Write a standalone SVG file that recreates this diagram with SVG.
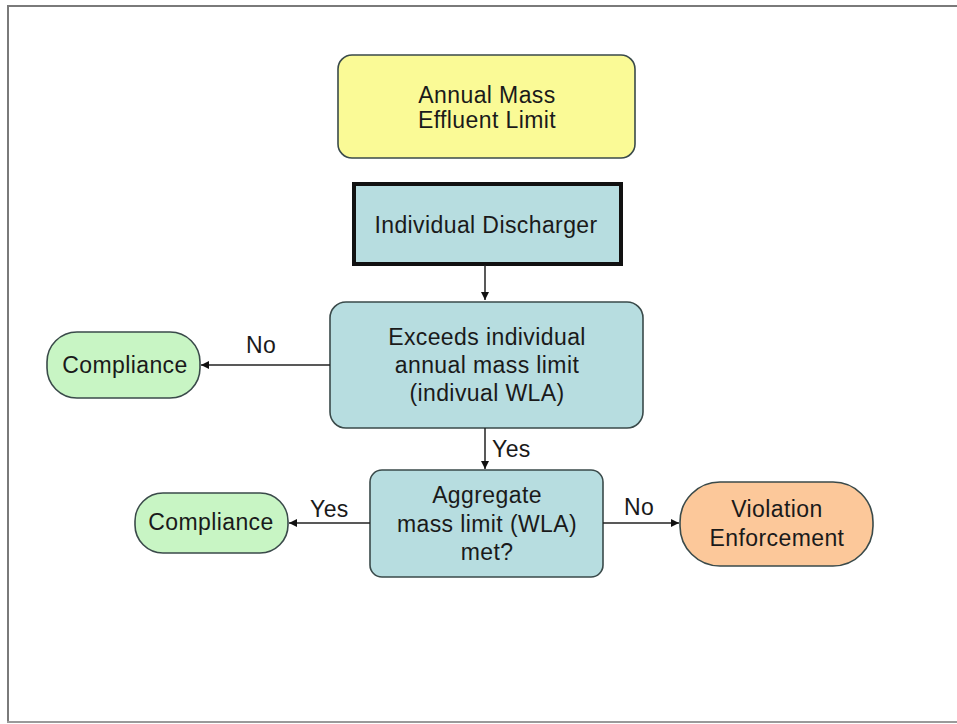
<svg xmlns="http://www.w3.org/2000/svg" width="957" height="724" viewBox="0 0 957 724">
<style>
text{font-family:"Liberation Sans",Arial,sans-serif;font-size:23px;letter-spacing:0.4px;fill:#1a1a1a;text-anchor:middle}
.lbl{text-anchor:start}
.box{stroke:#3a4a4a;stroke-width:1.6}
.blue{fill:#b7dde0}
.green{fill:#c8f5c4}
.conn line{stroke:#222;stroke-width:1.5}
</style>
<defs>
<marker id="arr" viewBox="0 0 10 10" refX="10" refY="5" markerWidth="8" markerHeight="8" markerUnits="userSpaceOnUse" orient="auto">
<path d="M0,0 L10,5 L0,10 z" fill="#111"/>
</marker>
</defs>
<rect x="0" y="0" width="957" height="724" fill="#fff"/>
<g id="frame" fill="none">
<line x1="7" y1="6" x2="957" y2="6" stroke="#7a7a7a" stroke-width="2"/>
<line x1="8" y1="6" x2="8" y2="722" stroke="#7a7a7a" stroke-width="2"/>
<line x1="7" y1="722" x2="957" y2="722" stroke="#9a9a9a" stroke-width="2"/>
</g>
<g id="annual-limit">
<rect class="box" x="338" y="55" width="297" height="103" rx="14" fill="#fafa96"/>
<text x="487" y="103">Annual Mass</text>
<text x="487" y="128">Effluent Limit</text>
</g>
<g id="individual-discharger">
<rect x="354" y="184" width="267" height="80" fill="#b7dde0" stroke="#111" stroke-width="4"/>
<text x="486" y="233">Individual Discharger</text>
</g>
<g id="exceeds">
<rect class="box blue" x="330" y="302" width="313" height="126" rx="16"/>
<text x="487" y="345">Exceeds individual</text>
<text x="487" y="373">annual mass limit</text>
<text x="487" y="401">(indivual WLA)</text>
</g>
<g id="compliance-1">
<rect class="box green" x="47" y="332" width="153" height="66" rx="30"/>
<text x="125" y="373">Compliance</text>
</g>
<g id="aggregate">
<rect class="box blue" x="370" y="470" width="233" height="107" rx="12"/>
<text x="487" y="503">Aggregate</text>
<text x="487" y="532">mass limit (WLA)</text>
<text x="487" y="560">met?</text>
</g>
<g id="compliance-2">
<rect class="box green" x="135" y="493" width="153" height="60" rx="28"/>
<text x="211" y="530">Compliance</text>
</g>
<g id="violation">
<rect class="box" x="680" y="482" width="193" height="84" rx="40" fill="#fcc89a"/>
<text x="777" y="517">Violation</text>
<text x="777" y="546">Enforcement</text>
</g>
<g class="conn" id="connectors">
<line x1="485" y1="265" x2="485" y2="300" marker-end="url(#arr)"/>
<line x1="330" y1="365" x2="201" y2="365" marker-end="url(#arr)"/>
<line x1="485" y1="428" x2="485" y2="469" marker-end="url(#arr)"/>
<line x1="370" y1="523" x2="289" y2="523" marker-end="url(#arr)"/>
<line x1="603" y1="523" x2="679" y2="523" marker-end="url(#arr)"/>
<text class="lbl" x="246" y="353">No</text>
<text class="lbl" x="492" y="457">Yes</text>
<text class="lbl" x="310" y="517">Yes</text>
<text class="lbl" x="624" y="515">No</text>
</g>
</svg>
